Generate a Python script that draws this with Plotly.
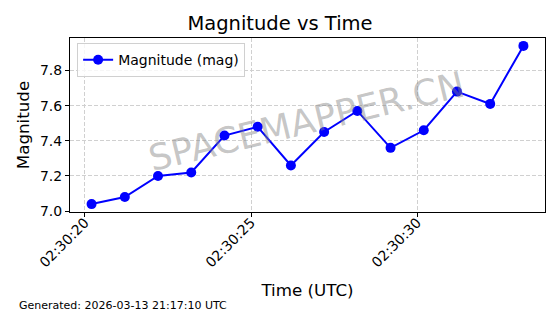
import plotly.graph_objects as go

times = ["2026-03-13 02:30:20.2", "2026-03-13 02:30:21.2", "2026-03-13 02:30:22.2",
         "2026-03-13 02:30:23.2", "2026-03-13 02:30:24.2", "2026-03-13 02:30:25.2",
         "2026-03-13 02:30:26.2", "2026-03-13 02:30:27.2", "2026-03-13 02:30:28.2",
         "2026-03-13 02:30:29.2", "2026-03-13 02:30:30.2", "2026-03-13 02:30:31.2",
         "2026-03-13 02:30:32.2", "2026-03-13 02:30:33.2"]
magnitudes = [7.04, 7.08, 7.20, 7.22, 7.43, 7.48, 7.26, 7.45, 7.57, 7.36, 7.46, 7.68, 7.61, 7.94]
x_range = ["2026-03-13 02:30:19.55", "2026-03-13 02:30:33.85"]
y_range = [6.995, 7.985]

FONT = "DejaVu Sans"

fig = go.Figure()
fig.add_trace(go.Scatter(
    x=times, y=magnitudes, mode="lines+markers", name="Magnitude (mag)",
    line=dict(color="#0000ff", width=2),
    marker=dict(color="#0000ff", size=10),
))

fig.update_layout(
    width=560, height=314,
    margin=dict(l=70, r=15, t=38, b=102),
    paper_bgcolor="white", plot_bgcolor="white",
    font=dict(family=FONT, color="black", size=14),
    title=dict(text="Magnitude vs Time", x=0.5, xanchor="center", y=0.925, yanchor="middle",
               font=dict(size=19.5, family=FONT)),
    showlegend=True,
    legend=dict(x=0.015, y=0.97, xanchor="left", yanchor="top",
                bordercolor="#d0d0d0", borderwidth=1, bgcolor="rgba(255,255,255,0.8)",
                font=dict(size=14, family=FONT), itemwidth=30, tracegroupgap=0),
    xaxis=dict(
        type="date", range=x_range, tickformat="%H:%M:%S", dtick=5000,
        tick0="2026-03-13 02:30:20", tickangle=-45,
        showgrid=True, gridcolor="#d0d0d0", griddash="4px,2px", gridwidth=1,
        showline=True, linecolor="black", linewidth=1, mirror=True,
        ticks="outside", ticklen=4, tickcolor="black",
        tickfont=dict(size=14, family=FONT), ticklabelstandoff=-8,
        title=dict(text="Time (UTC)", font=dict(size=16.7, family=FONT), standoff=14),
        zeroline=False,
    ),
    yaxis=dict(
        range=y_range, dtick=0.2, tick0=7.0, tickformat=".1f",
        showgrid=True, gridcolor="#d0d0d0", griddash="4px,2px", gridwidth=1,
        showline=True, linecolor="black", linewidth=1, mirror=True,
        ticks="outside", ticklen=4, tickcolor="black",
        tickfont=dict(size=14, family=FONT),
        title=dict(text="Magnitude", font=dict(size=16.7, family=FONT), standoff=6),
        zeroline=False,
    ),
)

fig.add_annotation(text="SPACEMAPPER.CN", xref="paper", yref="paper", x=0.497, y=0.52,
                   showarrow=False, textangle=-13.5,
                   font=dict(size=36, family=FONT, color="rgba(128,128,128,0.45)"))
fig.add_annotation(text="Generated: 2026-03-13 21:17:10 UTC", xref="paper", yref="paper",
                   x=(17 - 70) / 475, y=(212 - 305) / 174, xanchor="left", yanchor="middle",
                   showarrow=False, font=dict(size=11, family=FONT, color="black"))

fig.write_html("out.html")
